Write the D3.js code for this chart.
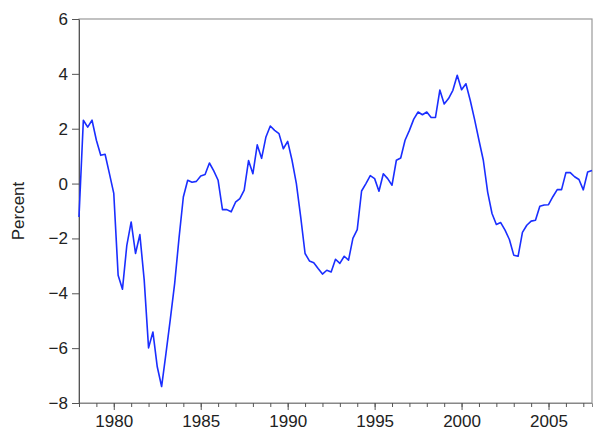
<!DOCTYPE html>
<html>
<head>
<meta charset="utf-8">
<script src="https://cdn.jsdelivr.net/npm/d3@7"></script>
<style>
  body { margin: 0; background: #fff; }
  text { font-family: "Liberation Sans", Arial, sans-serif; fill: #222; }
</style>
</head>
<body>
<svg id="chart" width="600" height="442"></svg>
<script>
// quarterly series, first obs 1978Q1
var startYear = 1978;
var values = [
  -1.22, 2.31, 2.06, 2.31,
  1.58, 1.03, 1.07, 0.36,
  -0.36, -3.34, -3.85, -2.25,
  -1.40, -2.55, -1.86, -3.52,
  -5.99, -5.41, -6.68, -7.40,
  -6.20, -4.95, -3.65, -2.00,
  -0.49, 0.12, 0.05, 0.08,
  0.28, 0.33, 0.75, 0.46,
  0.12, -0.95, -0.95, -1.03,
  -0.68, -0.55, -0.24, 0.84,
  0.36, 1.41, 0.92, 1.70,
  2.10, 1.94, 1.82, 1.27,
  1.54, 0.85, 0.00, -1.22,
  -2.55, -2.82, -2.89, -3.10,
  -3.30, -3.16, -3.22, -2.76,
  -2.91, -2.65, -2.79, -2.00,
  -1.68, -0.27, 0.00, 0.29,
  0.18, -0.28, 0.36, 0.18,
  -0.06, 0.85, 0.93, 1.58,
  1.94, 2.35, 2.61, 2.51,
  2.61, 2.41, 2.41, 3.41,
  2.90, 3.10, 3.40, 3.95,
  3.42, 3.64, 3.03, 2.33,
  1.58, 0.85, -0.31, -1.09,
  -1.49, -1.42, -1.70, -2.04,
  -2.61, -2.65, -1.78, -1.52,
  -1.37, -1.34, -0.83, -0.78,
  -0.77, -0.48, -0.22, -0.22,
  0.40, 0.40, 0.25, 0.15,
  -0.23, 0.42, 0.48
];
var yTicks = [-8, -6, -4, -2, 0, 2, 4, 6];
var xMajor = [1980, 1985, 1990, 1995, 2000, 2005];
var xMinor = d3.range(1978, 2008);

var svg = d3.select("#chart"),
    margin = {top: 19, right: 8, bottom: 39, left: 79},
    width = 600 - margin.left - margin.right,
    height = 442 - margin.top - margin.bottom;

var g = svg.append("g")
    .attr("transform", "translate(" + margin.left + "," + margin.top + ")");

var data = values.map(function(v, i) {
    return {t: startYear + i / 4, value: v};
});

var x = d3.scaleLinear().domain([1978, 2007.5]).range([0, width]);
var y = d3.scaleLinear().domain([-8, 6]).range([height, 0]);

// frame
g.append("rect")
    .attr("x", 0).attr("y", 0)
    .attr("width", width).attr("height", height)
    .attr("fill", "none")
    .attr("stroke", "#999")
    .attr("stroke-width", 1.2);

// y axis
var yAxis = g.append("g")
    .call(d3.axisLeft(y).tickValues(yTicks).tickSize(7).tickSizeOuter(0).tickPadding(4));
yAxis.select(".domain").attr("stroke", "#555");
yAxis.selectAll(".tick line").attr("stroke", "#555");
yAxis.selectAll("text")
    .style("font-size", "17px")
    .style("font-family", "Liberation Sans, Arial, sans-serif")
    .attr("fill", "#222");

// x axis minor ticks
var xMinorAxis = g.append("g")
    .attr("transform", "translate(0," + height + ")")
    .call(d3.axisBottom(x).tickValues(xMinor).tickSize(4).tickFormat(""));
xMinorAxis.select(".domain").attr("stroke", "#888");
xMinorAxis.selectAll(".tick line").attr("stroke", "#555");

// x axis major ticks with labels
var xAxis = g.append("g")
    .attr("transform", "translate(0," + height + ")")
    .call(d3.axisBottom(x).tickValues(xMajor).tickSize(7).tickSizeOuter(0)
        .tickFormat(d3.format("d")).tickPadding(5));
xAxis.select(".domain").remove();
xAxis.selectAll(".tick line").attr("stroke", "#555");
xAxis.selectAll("text")
    .style("font-size", "17px")
    .style("font-family", "Liberation Sans, Arial, sans-serif")
    .attr("fill", "#222");

// y label
svg.append("text")
    .attr("transform", "translate(24," + (margin.top + height / 2) + ") rotate(-90)")
    .attr("text-anchor", "middle")
    .style("font-size", "17px")
    .text("Percent");

// the series
var line = d3.line()
    .x(function(d) { return x(d.t); })
    .y(function(d) { return y(d.value); });

g.append("path")
    .datum(data)
    .attr("fill", "none")
    .attr("stroke", "#1a2eff")
    .attr("stroke-width", 1.6)
    .attr("stroke-linejoin", "round")
    .attr("d", line);
</script>
</body>
</html>
